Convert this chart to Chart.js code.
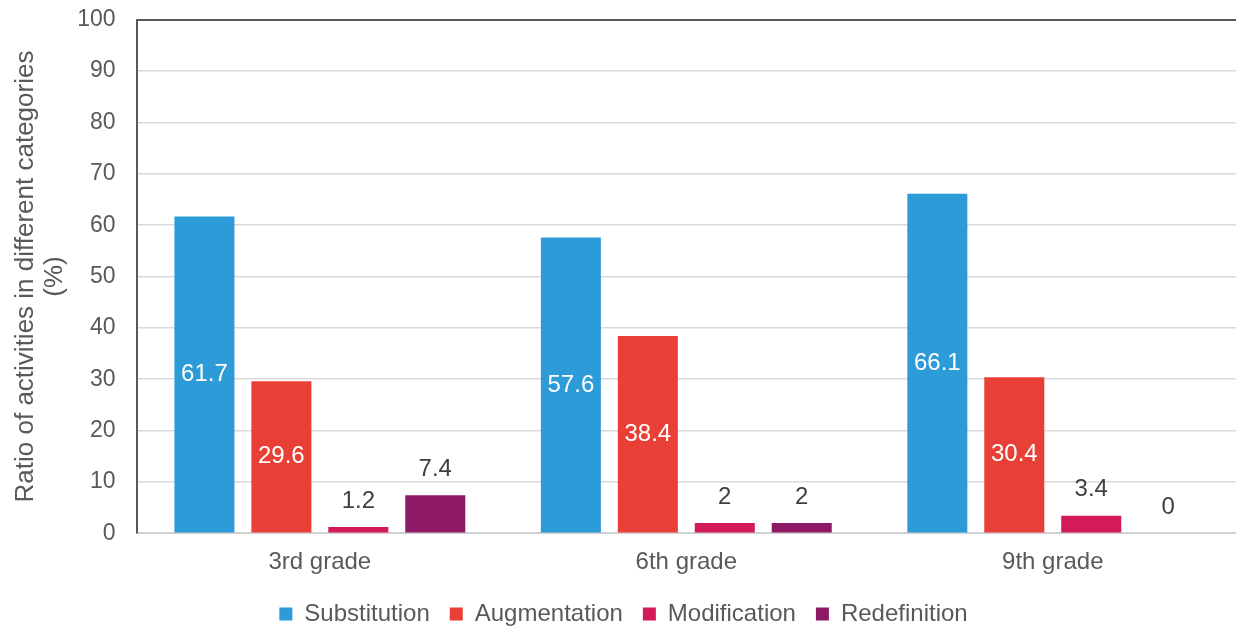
<!DOCTYPE html>
<html>
<head>
<meta charset="utf-8">
<script src="https://cdn.jsdelivr.net/npm/chart.js@4.4.0/dist/chart.umd.min.js"></script>
<style>
  html, body { margin: 0; padding: 0; background: #fff; }
  #wrap { width: 1236px; height: 626px; }
</style>
</head>
<body>
<div id="wrap"><canvas id="grades-chart"></canvas></div>
<script>
var grades = ['3rd grade', '6th grade', '9th grade'];
var substitution = [61.7, 57.6, 66.1];
var augmentation = [29.6, 38.4, 30.4];
var modification = [1.2, 2, 3.4];
var redefinition = [7.4, 2, 0];
var yTicks = [0, 10, 20, 30, 40, 50, 60, 70, 80, 90, 100];

var FONT = '"Liberation Sans", Arial, sans-serif';
var GRAY = '#595959';

// value labels: white in the middle for the two big series, dark above for the small ones
var valueLabels = {
  id: 'valueLabels',
  afterDatasetsDraw: function (chart) {
    var ctx = chart.ctx;
    ctx.save();
    ctx.font = '24px ' + FONT;
    ctx.textAlign = 'center';
    ctx.textBaseline = 'middle';
    chart.data.datasets.forEach(function (ds, i) {
      var meta = chart.getDatasetMeta(i);
      meta.data.forEach(function (bar, j) {
        var v = ds.data[j];
        if (i < 2) {
          ctx.fillStyle = '#ffffff';
          ctx.fillText(String(v), bar.x, (bar.y + bar.base) / 2);
        } else {
          ctx.fillStyle = '#404040';
          ctx.fillText(String(v), bar.x, bar.y - 26);
        }
      });
    });
    ctx.restore();
  }
};

function dataset(label, data, color) {
  return {
    label: label,
    data: data,
    backgroundColor: color,
    borderWidth: 0,
    categoryPercentage: 0.84,
    barPercentage: 0.78
  };
}

new Chart(document.getElementById('grades-chart'), {
  type: 'bar',
  data: {
    labels: grades,
    datasets: [
      dataset('Substitution', substitution, '#2e9bd9'),
      dataset('Augmentation', augmentation, '#e84037'),
      dataset('Modification', modification, '#d21b58'),
      dataset('Redefinition', redefinition, '#8e1a65')
    ]
  },
  options: {
    responsive: true,
    maintainAspectRatio: false,
    animation: false,
    layout: { padding: { top: 0, right: 0, left: 11, bottom: -10 } },
    scales: {
      x: {
        grid: { display: false, drawTicks: false },
        border: { color: '#d0d0d0', width: 2 },
        ticks: { color: GRAY, font: { family: FONT, size: 24 }, padding: 14.5 },
        afterFit: function (scale) { scale.height -= 9; }
      },
      y: {
        min: 0,
        max: 100,
        afterBuildTicks: function (axis) {
          axis.ticks = yTicks.map(function (v) { return { value: v }; });
        },
        grid: {
          drawTicks: true,
          tickLength: 15,
          tickColor: 'rgba(0,0,0,0)',
          color: function (c) { return c.tick && c.tick.value === 100 ? GRAY : '#d9d9d9'; },
          lineWidth: function (c) { return c.tick && c.tick.value === 100 ? 2 : 1.5; }
        },
        border: { color: GRAY, width: 2 },
        ticks: { color: GRAY, font: { family: FONT, size: 23 }, padding: 6 },
        title: {
          display: true,
          text: ['Ratio of activities in different categories', '(%)'],
          color: GRAY,
          font: { family: FONT, size: 26, lineHeight: 1.12 },
          padding: { top: 0, bottom: 2 }
        }
      }
    },
    plugins: {
      legend: {
        position: 'bottom',
        labels: {
          color: GRAY,
          font: { family: FONT, size: 24 },
          boxWidth: 13,
          boxHeight: 13,
          padding: 20
        }
      },
      tooltip: { enabled: false }
    }
  },
  plugins: [valueLabels]
});
</script>
</body>
</html>
